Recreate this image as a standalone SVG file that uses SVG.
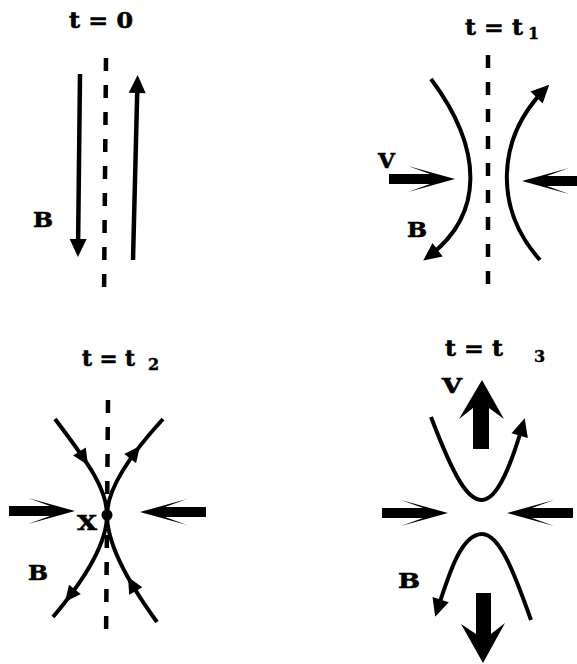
<svg xmlns="http://www.w3.org/2000/svg" xmlns:xlink="http://www.w3.org/1999/xlink" width="577" height="664" viewBox="0 0 577 664">
<style>
.bg{fill:#fff}
.dash{fill:none;stroke:#000;stroke-width:4.5;stroke-dasharray:13 14}
.fl{fill:none;stroke:#000;stroke-width:4;stroke-linecap:butt}
.lbl{font-family:"DejaVu Serif","Liberation Serif",serif;font-weight:bold;font-size:20px;fill:#000;stroke:#000;stroke-width:0.6}
.ttl{font-family:"DejaVu Serif","Liberation Serif",serif;font-weight:bold;font-size:22px;fill:#000;stroke:#000;stroke-width:0.6}
.sub{font-family:"DejaVu Serif","Liberation Serif",serif;font-weight:bold;font-size:16px;fill:#000;stroke:#000;stroke-width:0.4}
.solid{fill:#000}
</style>
<defs>
<marker id="head" markerUnits="userSpaceOnUse" markerWidth="40" markerHeight="40" refX="-6" refY="0" orient="auto" overflow="visible">
<path d="M0,0 L-18,-8.5 L-18,8.5 Z" fill="#000"/>
</marker>
<path id="ah" d="M0,0 L-16,-7.5 L-16,7.5 Z" fill="#000"/>
<path id="varrow" d="M-66,-5 L-25,-5 L-47,-13 L0,0 L-47,13 L-25,5 L-66,5 Z" fill="#000"/>
</defs>
<rect class="bg" x="0" y="0" width="577" height="664"/>

<g id="connectors">
<!-- panel 1 -->
<path class="fl" d="M80,74 L78,251" marker-end="url(#head)" style="stroke-width:4.5"/>
<path class="fl" d="M133,260 L137.5,81" marker-end="url(#head)" style="stroke-width:4.5"/>
<!-- panel 2 -->
<path class="fl" d="M431,79 C484,150 484,215 428,257" marker-end="url(#head)"/>
<path class="fl" d="M540,260 C495,210 495,140 545,89" marker-end="url(#head)"/>
<!-- panel 3 -->
<path class="fl" d="M55,419 C90,465 107,490 107,515 C107,545 80,585 53,617"/>
<path class="fl" d="M157,622 C130,585 107,545 107,515 C107,490 130,455 163,419"/>
<use xlink:href="#ah" href="#ah" transform="translate(88,465) rotate(57.5)"/>
<use xlink:href="#ah" href="#ah" transform="translate(140,446) rotate(-52)"/>
<use xlink:href="#ah" href="#ah" transform="translate(65,602) rotate(128)"/>
<use xlink:href="#ah" href="#ah" transform="translate(128,577) rotate(-119)"/>
<!-- panel 4 -->
<path class="fl" d="M431,417 C455,480 468,500 482,500 C498,500 512,462 523,424" marker-end="url(#head)"/>
<path class="fl" d="M531,620 C515,575 500,534 482,534 C462,534 450,570 437,611" marker-end="url(#head)"/>
</g>

<g id="panel-t0">
<text class="ttl" x="69" y="28" textLength="64" lengthAdjust="spacingAndGlyphs">t = 0</text>
<path class="dash" d="M106,58 L104,298"/>
<text class="lbl" x="33" y="227" textLength="20" lengthAdjust="spacingAndGlyphs">B</text>
</g>

<g id="panel-t1">
<text class="ttl" x="465" y="35" textLength="58" lengthAdjust="spacingAndGlyphs">t = t</text>
<text class="sub" x="528" y="39">1</text>
<path class="dash" d="M488,55 L488,297"/>
<use xlink:href="#varrow" href="#varrow" transform="translate(455,179)"/>
<use xlink:href="#varrow" href="#varrow" transform="translate(522,181) rotate(180)"/>
<text class="lbl" x="378" y="168" textLength="17" lengthAdjust="spacingAndGlyphs">V</text>
<text class="lbl" x="407" y="237" textLength="20" lengthAdjust="spacingAndGlyphs">B</text>
</g>

<g id="panel-t2">
<text class="ttl" x="82" y="366" textLength="53" lengthAdjust="spacingAndGlyphs">t = t</text>
<text class="sub" x="148" y="370">2</text>
<path class="dash" d="M108,400 L106,643"/>
<use xlink:href="#varrow" href="#varrow" transform="translate(75,511)"/>
<use xlink:href="#varrow" href="#varrow" transform="translate(140,512) rotate(180)"/>
<circle class="solid" cx="107" cy="515" r="5.5"/>
<text class="lbl" x="77" y="530" textLength="20" lengthAdjust="spacingAndGlyphs">X</text>
<text class="lbl" x="28" y="580" textLength="20" lengthAdjust="spacingAndGlyphs">B</text>
</g>

<g id="panel-t3">
<text class="ttl" x="445" y="356" textLength="58" lengthAdjust="spacingAndGlyphs">t = t</text>
<text class="sub" x="534" y="362">3</text>
<path class="solid" d="M473,449 L473,408 L459,419 L482,380 L504,419 L489,408 L489,449 Z"/>
<path class="solid" d="M476,593 L491,593 L491,634 L505,623 L483,663 L461,624 L476,634 Z"/>
<use xlink:href="#varrow" href="#varrow" transform="translate(448,513)"/>
<use xlink:href="#varrow" href="#varrow" transform="translate(507,513) rotate(180)"/>
<text class="lbl" x="442" y="393" textLength="20" lengthAdjust="spacingAndGlyphs">V</text>
<text class="lbl" x="398" y="588" textLength="22" lengthAdjust="spacingAndGlyphs">B</text>
</g>
</svg>
